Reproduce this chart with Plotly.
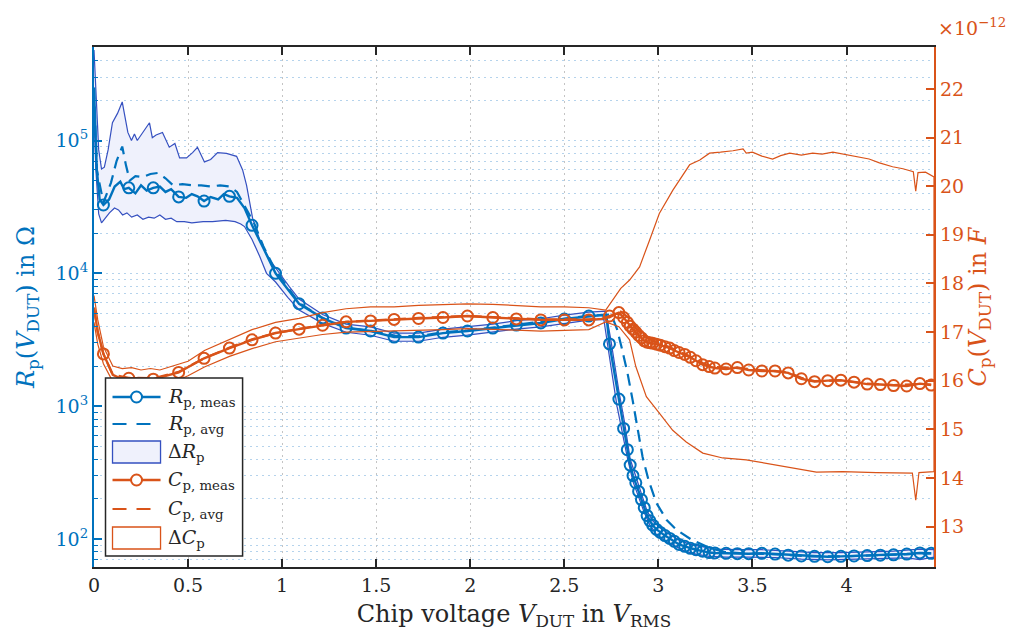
import plotly.graph_objects as go

BLUE = "#0072BD"
ORANGE = "#D95319"
BAND_BLUE = "#3550C0"
BAND_FILL = "#EFF1FC"
DARK = "#262626"
FONT = "DejaVu Serif"

# ---------------- data ----------------
# common marker positions (chip voltage, V_RMS)
v_mark = [0.05, 0.185, 0.315, 0.45, 0.585, 0.72, 0.84, 0.965, 1.09, 1.215,
          1.34, 1.47, 1.595, 1.725, 1.855, 1.985, 2.12, 2.245, 2.375, 2.50,
          2.63, 2.74, 2.79, 2.815, 2.835, 2.85, 2.865, 2.88, 2.895, 2.91,
          2.925, 2.94, 2.955, 2.97, 2.99, 3.01, 3.035, 3.06, 3.085, 3.11,
          3.14, 3.17, 3.20, 3.235, 3.27, 3.30, 3.36, 3.42, 3.48, 3.55,
          3.62, 3.69, 3.76, 3.83, 3.90, 3.97, 4.04, 4.11, 4.18, 4.25,
          4.32, 4.39, 4.45]
rp_mark = [3.27e4, 4.4e4, 4.4e4, 3.76e4, 3.5e4, 3.8e4, 2.3e4, 1.0e4, 5.9e3, 4.6e3,
           3.87e3, 3.68e3, 3.31e3, 3.31e3, 3.55e3, 3.68e3, 3.87e3, 4.08e3, 4.23e3, 4.53e3,
           4.77e3, 2.94e3, 1.13e3, 680, 470, 360, 300, 265, 228, 198,
           172, 150, 137, 127, 118, 112, 106, 101, 96, 91,
           88, 85, 83, 81, 79, 78.5, 78, 77.5, 77.5, 78,
           77, 75.5, 74.5, 74, 73.5, 74, 74.5, 75, 75.5, 76,
           77, 78.5, 78]
cp_mark = [16.55, 16.05, 16.03, 16.17, 16.46, 16.67, 16.84, 16.98, 17.06, 17.14,
           17.21, 17.23, 17.26, 17.28, 17.30, 17.33, 17.30, 17.27, 17.25, 17.25,
           17.25, 17.33, 17.40, 17.30, 17.20, 17.12, 17.06, 17.00, 16.93, 16.88,
           16.82, 16.79, 16.78, 16.77, 16.75, 16.73, 16.70, 16.67, 16.62, 16.58,
           16.54, 16.48, 16.41, 16.33, 16.29, 16.26, 16.24, 16.27, 16.22, 16.20,
           16.20, 16.16, 16.04, 15.98, 16.00, 16.01, 15.97, 15.93, 15.92, 15.90,
           15.89, 15.94, 15.91]

# extra line points between markers (C in units of 1e-12 F)
rp_extra_v = [0.0, 0.015, 0.03, 0.08, 0.11, 0.14, 0.16, 0.22, 0.25, 0.28, 0.35, 0.38,
              0.41, 0.49, 0.52, 0.55, 0.62, 0.66, 0.69, 0.76, 0.80, 0.90, 1.03, 2.70, 2.725]
rp_extra = [2.5e5, 6.0e4, 3.6e4, 3.6e4, 4.5e4, 4.9e4, 4.3e4, 4.0e4, 4.6e4, 4.2e4, 4.5e4, 4.1e4,
            4.3e4, 3.7e4, 3.95e4, 3.8e4, 3.75e4, 3.6e4, 3.95e4, 3.7e4, 3.1e4, 1.55e4, 7.6e3, 4.85e3, 4.6e3]
cp_extra_v = [0.0, 0.02, 0.10, 0.14, 0.25, 2.70]
cp_extra = [17.5, 17.0, 16.12, 16.05, 16.05, 17.27]

# averaged resistance
rp_avg_v = [0.0, 0.015, 0.05, 0.09, 0.12, 0.15, 0.17, 0.19, 0.22, 0.26, 0.30, 0.34, 0.38,
            0.42, 0.47, 0.52, 0.57, 0.62, 0.67, 0.72, 0.76, 0.80, 0.85, 0.90, 0.965,
            1.09, 1.215, 1.34, 1.47, 1.60, 1.725, 1.855, 1.985, 2.12, 2.245, 2.375,
            2.50, 2.63, 2.75, 2.78, 2.804, 2.836, 2.863, 2.89, 2.916, 2.948, 2.99,
            3.044, 3.097, 3.18, 3.27, 3.35, 3.45, 3.60, 3.80, 4.00, 4.20, 4.45]
rp_avg = [2.5e5, 6.0e4, 3.4e4, 4.8e4, 7.0e4, 9.0e4, 6.5e4, 5.0e4, 5.4e4, 5.3e4, 5.6e4, 5.7e4, 5.2e4,
          4.6e4, 4.7e4, 4.6e4, 4.6e4, 4.5e4, 4.6e4, 4.5e4, 4.1e4, 3.2e4, 2.4e4, 1.6e4, 1.05e4,
          6.0e3, 4.6e3, 3.9e3, 3.7e3, 3.4e3, 3.35e3, 3.6e3, 3.72e3, 3.9e3, 4.1e3, 4.3e3,
          4.55e3, 4.8e3, 4.9e3, 3.8e3, 2.79e3, 1.77e3, 1.11e3, 661, 414, 276, 186,
          139, 117, 98, 86, 80, 78, 77, 74, 74, 76, 78]

# Delta R_p band
drp_up_v = [0.0, 0.01, 0.025, 0.04, 0.055, 0.075, 0.098, 0.125, 0.15, 0.165, 0.18, 0.199,
            0.215, 0.23, 0.25, 0.27, 0.295, 0.31, 0.33, 0.364, 0.40, 0.43, 0.455, 0.492,
            0.524, 0.55, 0.587, 0.62, 0.657, 0.704, 0.758, 0.79, 0.811, 0.843, 0.88,
            0.933, 0.986, 1.039, 1.09, 1.215, 1.34, 1.47, 1.595, 1.725, 1.855, 1.985,
            2.12, 2.245, 2.375, 2.50, 2.63, 2.72, 2.745, 2.79, 2.82, 2.85, 2.88, 2.91,
            2.94, 2.97, 3.01, 3.06, 3.11, 3.17, 3.235, 3.30, 3.42, 3.55, 3.69, 3.83,
            3.97, 4.11, 4.25, 4.39, 4.465]
drp_up = [4.8e5, 2.2e5, 8.5e4, 6.1e4, 6.3e4, 8.5e4, 1.36e5, 1.6e5, 1.95e5, 1.5e5, 1.15e5, 1.0e5,
          1.12e5, 1.0e5, 1.1e5, 1.2e5, 1.36e5, 1.05e5, 1.1e5, 1.15e5, 8.9e4, 9.5e4, 7.4e4, 7.4e4,
          8.1e4, 8.9e4, 6.9e4, 7.2e4, 8.1e4, 8.0e4, 7.6e4, 6.0e4, 4.6e4, 2.6e4, 1.8e4,
          1.27e4, 1.0e4, 7.9e3, 6.4e3, 4.9e3, 4.15e3, 3.95e3, 3.55e3, 3.55e3, 3.8e3, 3.95e3,
          4.15e3, 4.4e3, 4.55e3, 4.85e3, 5.1e3, 5.2e3, 3.3e3, 1.3e3, 760, 400, 295, 215,
          162, 137, 121, 108, 98, 91, 87, 84, 83, 83, 81, 79,
          79, 80, 81, 84, 83]
drp_lo_v = [0.0, 0.01, 0.025, 0.04, 0.06, 0.082, 0.109, 0.13, 0.152, 0.175, 0.20, 0.23,
            0.26, 0.29, 0.32, 0.35, 0.38, 0.41, 0.44, 0.48, 0.52, 0.58, 0.63, 0.70, 0.75,
            0.78, 0.80, 0.84, 0.88, 0.917, 0.965, 1.03, 1.09, 1.215, 1.34, 1.47, 1.595,
            1.725, 1.855, 1.985, 2.12, 2.245, 2.375, 2.50, 2.63, 2.71, 2.735, 2.78, 2.81,
            2.835, 2.865, 2.895, 2.925, 2.955, 2.99, 3.035, 3.085, 3.14, 3.20, 3.27, 3.36,
            3.48, 3.62, 3.76, 3.90, 4.04, 4.18, 4.32, 4.39, 4.465]
drp_lo = [1.5e5, 6.0e4, 2.8e4, 2.4e4, 2.6e4, 2.85e4, 3.1e4, 3.0e4, 2.75e4, 2.85e4, 2.65e4, 2.75e4,
          2.55e4, 2.65e4, 2.6e4, 2.75e4, 2.55e4, 2.6e4, 2.45e4, 2.45e4, 2.4e4, 2.45e4, 2.45e4, 2.5e4, 2.45e4,
          2.35e4, 2.25e4, 1.8e4, 1.35e4, 1.0e4, 8.6e3, 6.6e3, 5.3e3, 4.2e3, 3.6e3, 3.42e3, 3.08e3,
          3.08e3, 3.3e3, 3.42e3, 3.6e3, 3.8e3, 3.95e3, 4.2e3, 4.45e3, 4.5e3, 2.6e3, 1.0e3, 600,
          410, 270, 205, 158, 127, 108, 97, 89, 81, 77, 74, 73,
          73, 72.5, 70.5, 69.5, 70, 71, 72, 70, 73]

# averaged capacitance (1e-12 F)
cp_avg_v = [0.0, 0.02, 0.05, 0.10, 0.185, 0.315, 0.45, 0.585, 0.72, 0.84, 0.965, 1.09,
            1.215, 1.34, 1.47, 1.595, 1.725, 1.855, 1.985, 2.12, 2.245, 2.375, 2.50, 2.63,
            2.74, 2.80, 2.84, 2.88, 2.92, 2.96, 3.00, 3.06, 3.11, 3.17, 3.235, 3.30, 3.42,
            3.55, 3.69, 3.76, 3.83, 3.97, 4.11, 4.25, 4.39, 4.45]
cp_avg = [17.5, 17.0, 16.55, 16.12, 16.06, 16.05, 16.18, 16.46, 16.68, 16.85, 16.98, 17.07,
          17.15, 17.21, 17.24, 17.27, 17.29, 17.31, 17.33, 17.31, 17.28, 17.26, 17.26, 17.26,
          17.30, 17.42, 17.30, 17.08, 16.95, 16.84, 16.77, 16.69, 16.60, 16.50, 16.36, 16.28, 16.26,
          16.21, 16.17, 16.06, 15.99, 16.01, 15.94, 15.91, 15.93, 15.92]

# Delta C_p band (1e-12 F)
dcp_up_v = [0.0, 0.02, 0.05, 0.10, 0.15, 0.20, 0.25, 0.30, 0.35, 0.40, 0.45, 0.50, 0.587,
            0.72, 0.84, 0.965, 1.09, 1.215, 1.34, 1.47, 1.595, 1.725, 1.855, 1.985, 2.12,
            2.245, 2.375, 2.50, 2.63, 2.72, 2.758, 2.80, 2.847, 2.90, 2.953, 3.005, 3.077,
            3.166, 3.22, 3.272, 3.33, 3.396, 3.45, 3.467, 3.50, 3.55, 3.607, 3.65, 3.698,
            3.76, 3.82, 3.87, 3.927, 4.017, 4.07, 4.12, 4.175, 4.245, 4.30, 4.355, 4.368,
            4.38, 4.42, 4.465]
dcp_up = [17.75, 17.25, 16.70, 16.30, 16.25, 16.27, 16.22, 16.25, 16.22, 16.28, 16.33, 16.40, 16.62,
          16.85, 17.05, 17.20, 17.28, 17.40, 17.48, 17.52, 17.52, 17.55, 17.57, 17.58, 17.57,
          17.55, 17.52, 17.52, 17.50, 17.45, 17.66, 17.90, 18.07, 18.34, 18.89, 19.44, 19.92,
          20.44, 20.54, 20.68, 20.70, 20.73, 20.77, 20.68, 20.70, 20.62, 20.56, 20.63, 20.68,
          20.64, 20.68, 20.66, 20.70, 20.64, 20.60, 20.56, 20.48, 20.40, 20.36, 20.30, 19.90,
          20.28, 20.29, 20.19]
dcp_lo_v = [0.0, 0.02, 0.05, 0.10, 0.15, 0.20, 0.25, 0.30, 0.35, 0.40, 0.45, 0.50, 0.587,
            0.72, 0.84, 0.965, 1.09, 1.215, 1.34, 1.47, 1.595, 1.725, 1.855, 1.985, 2.12,
            2.245, 2.375, 2.50, 2.63, 2.72, 2.79, 2.847, 2.88, 2.936, 3.005, 3.076, 3.148,
            3.236, 3.342, 3.467, 3.574, 3.714, 3.84, 3.98, 4.158, 4.35, 4.368, 4.385, 4.465]
dcp_lo = [17.20, 16.75, 16.35, 15.98, 15.92, 15.95, 15.90, 15.92, 15.95, 15.98, 16.02, 16.10, 16.28,
          16.50, 16.66, 16.80, 16.88, 16.95, 17.00, 17.02, 17.03, 17.04, 17.05, 17.07, 17.06,
          17.04, 17.02, 17.03, 17.05, 17.21, 17.11, 16.84, 16.29, 15.67, 15.33, 14.98, 14.74,
          14.51, 14.41, 14.37, 14.30, 14.20, 14.12, 14.13, 14.11, 14.10, 13.54, 14.11, 14.13]

x_ticks = [0, 0.5, 1, 1.5, 2, 2.5, 3, 3.5, 4]
x_ticktext = ["0", "0.5", "1", "1.5", "2", "2.5", "3", "3.5", "4"]
r_ticks = [1e2, 1e3, 1e4, 1e5]
r_ticktext = ["10<sup>2</sup>", "10<sup>3</sup>", "10<sup>4</sup>", "10<sup>5</sup>"]
r_minor = [m * 10 ** e for e in range(1, 6) for m in range(2, 10)]
c_ticks = [13, 14, 15, 16, 17, 18, 19, 20, 21, 22]

legend_labels = ["<i>R</i><sub>p, meas</sub>", "<i>R</i><sub>p, avg</sub>", "Δ<i>R</i><sub>p</sub>",
                 "<i>C</i><sub>p, meas</sub>", "<i>C</i><sub>p, avg</sub>", "Δ<i>C</i><sub>p</sub>"]

# ---------------- build ----------------
rp_line = sorted(zip(v_mark + rp_extra_v, rp_mark + rp_extra))
cp_line = sorted(zip(v_mark + cp_extra_v, cp_mark + cp_extra))
DASH = "12px,7px"
MK = dict(symbol="circle-open", size=11)

fig = go.Figure()
fig.add_trace(go.Scatter(
    x=drp_up_v + drp_lo_v[::-1], y=drp_up + drp_lo[::-1],
    mode="lines", fill="toself", fillcolor=BAND_FILL,
    line=dict(color=BAND_BLUE, width=1.2), name=legend_labels[2], yaxis="y"))
fig.add_trace(go.Scatter(x=rp_avg_v, y=rp_avg, mode="lines",
                         line=dict(color=BLUE, width=2.2, dash=DASH),
                         name=legend_labels[1], yaxis="y"))
fig.add_trace(go.Scatter(x=[p[0] for p in rp_line], y=[p[1] for p in rp_line], mode="lines",
                         line=dict(color=BLUE, width=2.4), name=legend_labels[0], yaxis="y"))
fig.add_trace(go.Scatter(x=v_mark, y=rp_mark, mode="markers",
                         marker=dict(**MK, color=BLUE, line=dict(width=2, color=BLUE)),
                         name=legend_labels[0], yaxis="y"))

fig.add_trace(go.Scatter(
    x=dcp_up_v + dcp_lo_v[::-1], y=dcp_up + dcp_lo[::-1],
    mode="lines", line=dict(color=ORANGE, width=1.2), name=legend_labels[5], yaxis="y2"))
fig.add_trace(go.Scatter(x=cp_avg_v, y=cp_avg, mode="lines",
                         line=dict(color=ORANGE, width=2.2, dash=DASH),
                         name=legend_labels[4], yaxis="y2"))
fig.add_trace(go.Scatter(x=[p[0] for p in cp_line], y=[p[1] for p in cp_line], mode="lines",
                         line=dict(color=ORANGE, width=2.4), name=legend_labels[3], yaxis="y2"))
fig.add_trace(go.Scatter(x=v_mark, y=cp_mark, mode="markers",
                         marker=dict(**MK, color=ORANGE, line=dict(width=2, color=ORANGE)),
                         name=legend_labels[3], yaxis="y2"))

# ---------------- legend box (drawn in paper coordinates) ----------------
# plot area in screen pixels: x 94.5..934, y 47..567
def px(x):
    return (x - 94.5) / 839.5


def py(y):
    return (567.0 - y) / 520.0


shapes = [dict(type="rect", xref="paper", yref="paper", x0=px(106), x1=px(243),
               y0=py(378), y1=py(556), fillcolor="white",
               line=dict(color=DARK, width=1.5), layer="above")]
annotations = []
rows_y = [397, 424, 452, 480, 509, 538]
styles = [("meas", BLUE), ("avg", BLUE), ("band", BLUE), ("meas", ORANGE), ("avg", ORANGE), ("band", ORANGE)]
for (kind, col), yy, lab in zip(styles, rows_y, legend_labels):
    if kind in ("meas", "avg"):
        shapes.append(dict(type="line", xref="paper", yref="paper", x0=px(113), x1=px(161),
                           y0=py(yy), y1=py(yy), layer="above",
                           line=dict(color=col, width=2.4 if kind == "meas" else 2.2,
                                     dash="solid" if kind == "meas" else "14px,10px")))
        if kind == "meas":
            shapes.append(dict(type="circle", xref="paper", yref="paper",
                               x0=px(131.5), x1=px(142.5), y0=py(yy - 5.5), y1=py(yy + 5.5),
                               fillcolor="white", line=dict(color=col, width=2), layer="above"))
    else:
        shapes.append(dict(type="rect", xref="paper", yref="paper", x0=px(113), x1=px(161),
                           y0=py(yy - 11), y1=py(yy + 11), layer="above",
                           fillcolor=BAND_FILL if col == BLUE else "white",
                           line=dict(color=BAND_BLUE if col == BLUE else ORANGE, width=1.3)))
    annotations.append(dict(text=lab, xref="paper", yref="paper", x=px(166), y=py(yy),
                            xanchor="left", yanchor="middle", showarrow=False,
                            font=dict(family=FONT, size=19, color=DARK)))

annotations.append(dict(text="×10<sup>−12</sup>", xref="paper", yref="paper",
                        x=px(936), y=py(27), xanchor="left", yanchor="middle",
                        showarrow=False, font=dict(family=FONT, size=19, color=ORANGE)))

fig.update_layout(
    width=1016, height=641,
    margin=dict(l=86, r=90, t=39, b=82),
    paper_bgcolor="white", plot_bgcolor="white",
    font=dict(family=FONT, size=19, color=DARK),
    showlegend=False,
    shapes=shapes, annotations=annotations,
    xaxis=dict(range=[0, 4.465], tickvals=x_ticks, ticktext=x_ticktext, automargin=False,
               showline=True, linecolor=DARK, linewidth=2, mirror="ticks",
               ticks="inside", ticklen=8, tickwidth=1.5, tickcolor=DARK,
               showgrid=True, gridcolor="#C4C4C4", griddash="2px,4px", gridwidth=1.3,
               zeroline=False,
               tickfont=dict(family=FONT, size=19, color=DARK),
               title=dict(text="Chip voltage <i>V</i><sub>DUT</sub> in <i>V</i><sub>RMS</sub>",
                          font=dict(family=FONT, size=24, color=DARK), standoff=10)),
    yaxis=dict(type="log", range=[1.789, 5.704], tickvals=r_ticks, ticktext=r_ticktext,
               automargin=False,
               showline=True, linecolor=BLUE, linewidth=2.2,
               ticks="inside", ticklen=8, tickwidth=1.5, tickcolor=BLUE,
               showgrid=True, gridcolor="#B5D3EC", griddash="2px,4px", gridwidth=1.3,
               minor=dict(tickmode="array", tickvals=r_minor, ticks="inside", ticklen=4,
                          tickcolor=BLUE, tickwidth=1.2, showgrid=True,
                          gridcolor="#B5D3EC", griddash="2px,4px", gridwidth=1.3),
               zeroline=False,
               tickfont=dict(family=FONT, size=19, color=BLUE),
               title=dict(text="<i>R</i><sub>p</sub>(<i>V</i><sub>DUT</sub>) in Ω",
                          font=dict(family=FONT, size=24, color=BLUE), standoff=14)),
    yaxis2=dict(overlaying="y", side="right", range=[12.167, 22.864], tickvals=c_ticks,
                automargin=False,
                showline=True, linecolor=ORANGE, linewidth=2.2,
                ticks="inside", ticklen=8, tickwidth=1.5, tickcolor=ORANGE,
                showgrid=False, zeroline=False,
                tickfont=dict(family=FONT, size=19, color=ORANGE),
                title=dict(text="<i>C</i><sub>p</sub>(<i>V</i><sub>DUT</sub>) in <i>F</i>",
                           font=dict(family=FONT, size=24, color=ORANGE), standoff=4)),
)

fig.write_html("out.html")
